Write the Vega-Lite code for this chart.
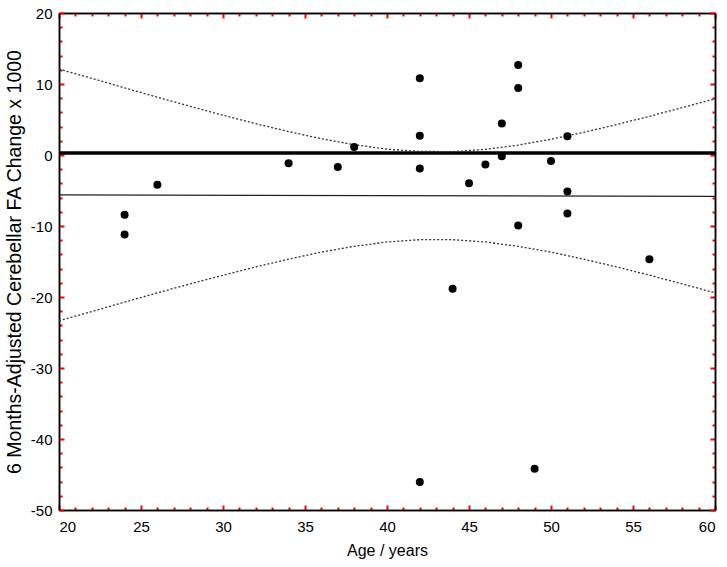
{
  "$schema": "https://vega.github.io/schema/vega-lite/v6.json",
  "width": 656,
  "height": 497,
  "autosize": {"type": "none"},
  "padding": {"left": 59, "top": 13, "right": 12, "bottom": 57},
  "config": {
    "view": {"stroke": null},
    "font": "Liberation Sans",
    "axis": {
      "domain": true,
      "domainColor": "black",
      "domainWidth": 1.5,
      "gridOpacity": 0,
      "ticks": true,
      "tickColor": "red",
      "tickWidth": 2,
      "labelColor": "black",
      "titleColor": "black",
      "labelFont": "Liberation Sans",
      "titleFont": "Liberation Sans",
      "labelFontSize": 15,
      "titleFontWeight": "normal"
    }
  },
  "datasets": {
    "pts": [
      {"age": 24, "fa": -8.4},
      {"age": 24, "fa": -11.2},
      {"age": 26, "fa": -4.2},
      {"age": 34, "fa": -1.16},
      {"age": 37, "fa": -1.7},
      {"age": 38, "fa": 1.14},
      {"age": 42, "fa": 10.8},
      {"age": 42, "fa": 2.7},
      {"age": 42, "fa": -1.9},
      {"age": 42, "fa": -46.05},
      {"age": 44, "fa": -18.85},
      {"age": 45, "fa": -3.97},
      {"age": 46, "fa": -1.34},
      {"age": 47, "fa": 4.43},
      {"age": 47, "fa": -0.17},
      {"age": 48, "fa": 12.68},
      {"age": 48, "fa": 9.44},
      {"age": 48, "fa": -9.93},
      {"age": 49, "fa": -44.2},
      {"age": 50, "fa": -0.83},
      {"age": 51, "fa": 2.64},
      {"age": 51, "fa": -5.14},
      {"age": 51, "fa": -8.24},
      {"age": 56, "fa": -14.7}
    ],
    "fit": [
      {"age": 20, "fit": -5.62},
      {"age": 60, "fit": -5.82}
    ],
    "ci": [
      {"age": 20, "upper": 12.1, "lower": -23.35},
      {"age": 22, "upper": 10.8, "lower": -22.05},
      {"age": 24, "upper": 9.45, "lower": -20.72},
      {"age": 26, "upper": 8.14, "lower": -19.42},
      {"age": 28, "upper": 6.85, "lower": -18.15},
      {"age": 30, "upper": 5.6, "lower": -16.93},
      {"age": 32, "upper": 4.41, "lower": -15.76},
      {"age": 34, "upper": 3.3, "lower": -14.67},
      {"age": 36, "upper": 2.29, "lower": -13.68},
      {"age": 38, "upper": 1.45, "lower": -12.86},
      {"age": 40, "upper": 0.82, "lower": -12.25},
      {"age": 42, "upper": 0.5, "lower": -11.93},
      {"age": 44, "upper": 0.48, "lower": -11.93},
      {"age": 46, "upper": 0.79, "lower": -12.25},
      {"age": 48, "upper": 1.4, "lower": -12.86},
      {"age": 50, "upper": 2.22, "lower": -13.68},
      {"age": 52, "upper": 3.2, "lower": -14.68},
      {"age": 54, "upper": 4.28, "lower": -15.76},
      {"age": 56, "upper": 5.45, "lower": -16.92},
      {"age": 58, "upper": 6.68, "lower": -18.15},
      {"age": 60, "upper": 7.9, "lower": -19.42}
    ],
    "ref": [
      {"age": 20, "v": 0.28},
      {"age": 60, "v": 0.28}
    ]
  },
  "resolve": {"axis": {"x": "independent", "y": "independent"}},
  "layer": [
    {
      "data": {"name": "ref"},
      "mark": {"type": "line", "color": "black", "strokeWidth": 3.5},
      "encoding": {
        "x": {"field": "age", "type": "quantitative",
          "scale": {"domain": [20, 60], "nice": false, "zero": false},
          "axis": {
            "orient": "top", "labels": false, "title": null,
            "values": [20,25,30,35,40,45,50,55,60],
            "tickSize": -5
          }},
        "y": {"field": "v", "type": "quantitative",
          "scale": {"domain": [-50, 20], "nice": false, "zero": false},
          "axis": {
            "orient": "right", "labels": false, "title": null,
            "values": [-50,-40,-30,-20,-10,0,10,20],
            "tickSize": -5
          }}
      }
    },
    {
      "data": {"name": "fit"},
      "mark": {"type": "line", "color": "#222222", "strokeWidth": 1.2},
      "encoding": {
        "x": {"field": "age", "type": "quantitative",
          "axis": {
            "orient": "top", "labels": false, "title": null,
            "values": [21,22,23,24,26,27,28,29,31,32,33,34,36,37,38,39,41,42,43,44,46,47,48,49,51,52,53,54,56,57,58,59],
            "tickSize": -3
          }},
        "y": {"field": "fit", "type": "quantitative",
          "axis": {
            "orient": "right", "labels": false, "title": null,
            "values": [-48,-46,-44,-42,-38,-36,-34,-32,-28,-26,-24,-22,-18,-16,-14,-12,-8,-6,-4,-2,2,4,6,8,12,14,16,18],
            "tickSize": -3
          }}
      }
    },
    {
      "data": {"name": "ci"},
      "mark": {"type": "line", "color": "#333333", "strokeWidth": 1.3, "strokeDash": [2, 2]},
      "encoding": {
        "x": {"field": "age", "type": "quantitative",
          "axis": {
            "orient": "bottom", "labels": false, "title": null,
            "values": [21,22,23,24,26,27,28,29,31,32,33,34,36,37,38,39,41,42,43,44,46,47,48,49,51,52,53,54,56,57,58,59],
            "tickSize": -3
          }},
        "y": {"field": "upper", "type": "quantitative",
          "axis": {
            "orient": "left", "labels": false, "title": null,
            "values": [-48,-46,-44,-42,-38,-36,-34,-32,-28,-26,-24,-22,-18,-16,-14,-12,-8,-6,-4,-2,2,4,6,8,12,14,16,18],
            "tickSize": -3
          }}
      }
    },
    {
      "data": {"name": "ci"},
      "mark": {"type": "line", "color": "#333333", "strokeWidth": 1.3, "strokeDash": [2, 2]},
      "encoding": {
        "x": {"field": "age", "type": "quantitative", "axis": null},
        "y": {"field": "lower", "type": "quantitative", "axis": null}
      }
    },
    {
      "data": {"name": "pts"},
      "mark": {"type": "circle", "color": "black", "opacity": 1, "size": 64},
      "encoding": {
        "x": {"field": "age", "type": "quantitative",
          "axis": {
            "orient": "bottom", "title": "Age / years", "titleFontSize": 16, "titlePadding": 8,
            "values": [20,25,30,35,40,45,50,55,60],
            "labelExpr": "'' + datum.value",
            "labelPadding": 14,
            "tickSize": -5
          }},
        "y": {"field": "fa", "type": "quantitative",
          "axis": {
            "orient": "left", "title": "6 Months-Adjusted Cerebellar FA Change x 1000", "titleFontSize": 19.5, "titlePadding": 6,
            "values": [-50,-40,-30,-20,-10,0,10,20],
            "labelExpr": "'' + datum.value",
            "labelPadding": 12,
            "tickSize": -5
          }}
      }
    }
  ]
}
